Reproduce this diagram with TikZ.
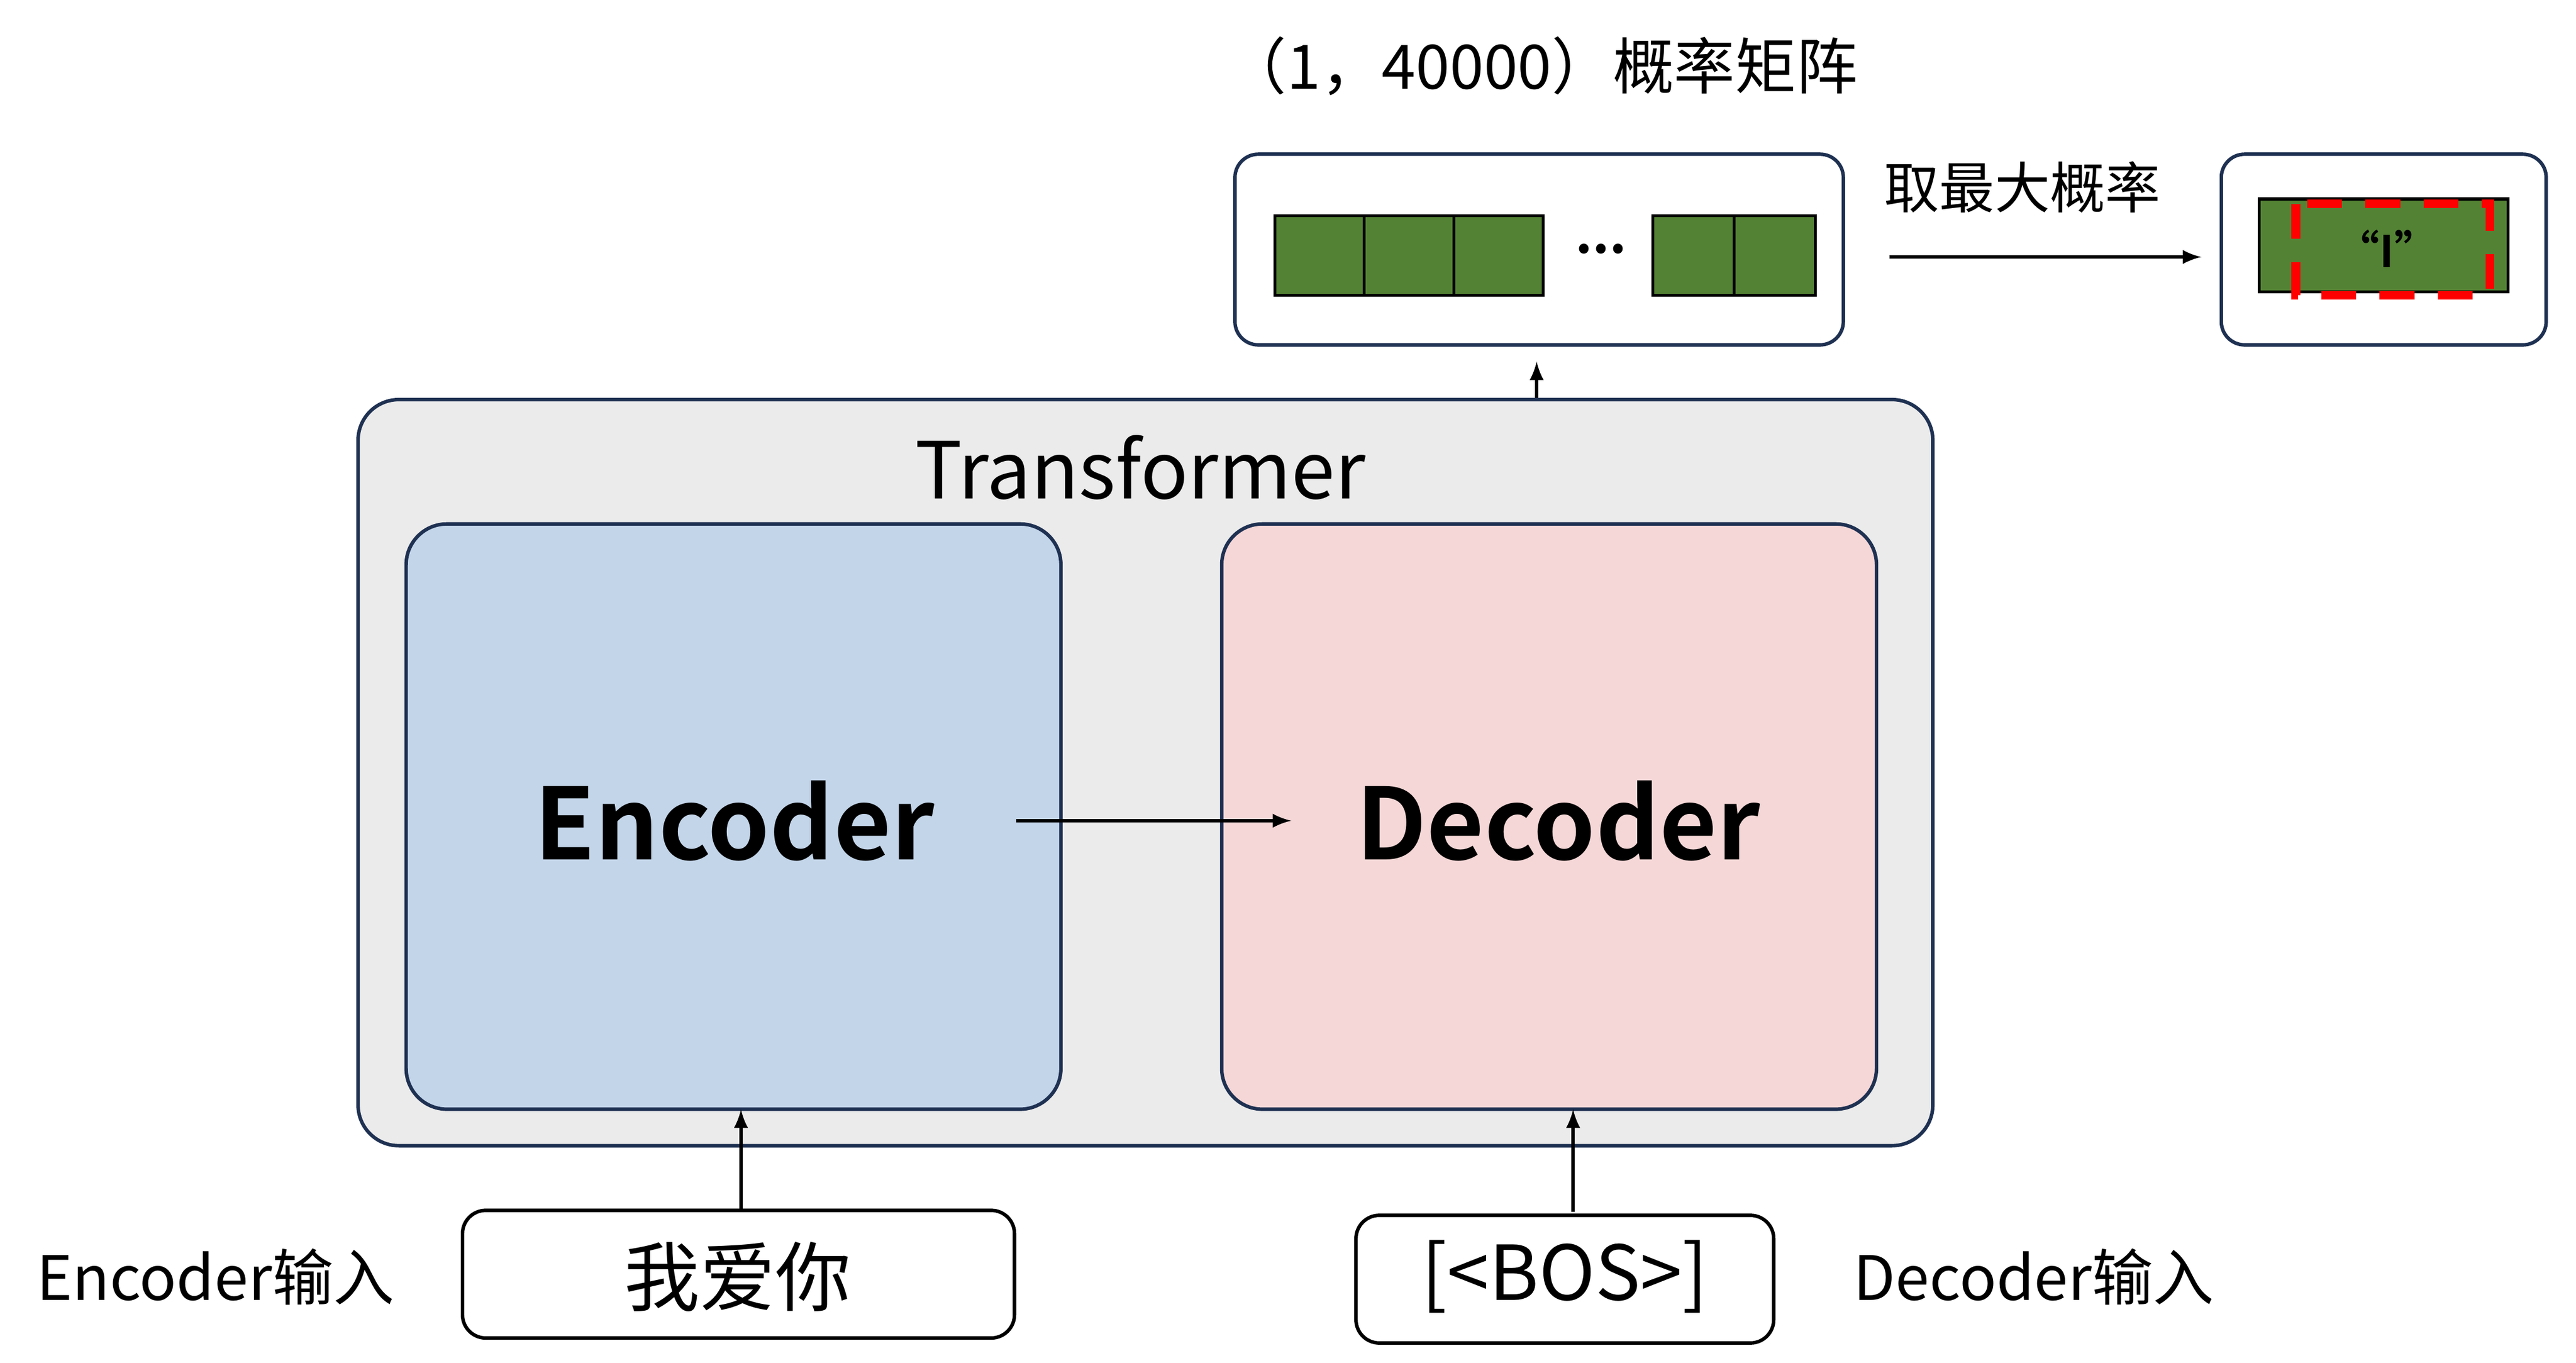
\documentclass[tikz,border=0pt]{standalone}
\usepackage{fontspec}
\setmainfont{Noto Sans CJK SC}[BoldFont=Noto Sans CJK SC Bold]
\begin{document}
\begin{tikzpicture}[x=0.02cm,y=-0.02cm,
  navy/.style={draw=black!40!blue!60!black,line width=1.2pt},
  rbox/.style={navy,rounded corners=8pt},
  cell/.style={draw=black,line width=1pt,fill=green!40!black!60!olive},
  arr/.style={-latex,line width=1.2pt}]
\definecolor{ng}{HTML}{548235}
\definecolor{nv}{HTML}{1F3152}
\tikzset{navy/.style={draw=nv,line width=1.2pt}, cell/.style={draw=black,line width=1pt,fill=ng}}
\useasboundingbox (0,0) rectangle (1554,822);
% top
\node (title) at (930,40) {\fontsize{21}{25}\selectfont （1，40000）概率矩阵};
\draw[rbox] (745,93) rectangle (1112,208);
\node[cell,minimum width=54*0.02cm,minimum height=48*0.02cm,inner sep=0] (c1) at (796,154) {};
\node[cell,minimum width=54*0.02cm,minimum height=48*0.02cm,inner sep=0] (c2) at (850,154) {};
\node[cell,minimum width=54*0.02cm,minimum height=48*0.02cm,inner sep=0] (c3) at (904,154) {};
\node (dots) at (966,150) {\fontsize{18}{20}\selectfont\textbf{...}};
\node[cell,minimum width=49*0.02cm,minimum height=48*0.02cm,inner sep=0] (c4) at (1021.5,154) {};
\node[cell,minimum width=49*0.02cm,minimum height=48*0.02cm,inner sep=0] (c5) at (1070.5,154) {};
\coordinate (mtop) at (927,218);
\coordinate (tr) at (927,280);
\draw[arr] (tr) -- (mtop);
\node (take) at (1220,113) {\fontsize{19}{22}\selectfont 取最大概率};
\coordinate (a1) at (1140,155); \coordinate (a2) at (1328,155);
\draw[arr] (a1) -- (a2);
\draw[rbox] (1340,93) rectangle (1536,208);
\draw[cell] (1363,120) rectangle (1513,176);
\draw[red,line width=3pt,dash pattern=on 12pt off 8pt] (1385,123) rectangle (1502,178);
\node (I) at (1440,150) {\fontsize{15}{18}\selectfont\textbf{“I”}};
% transformer
\draw[navy,rounded corners=14pt,fill=black!8] (216,241) rectangle (1166,691);
\node (tf) at (688,282) {\fontsize{27}{30}\selectfont Transformer};
\draw[navy,rounded corners=14pt,fill=blue!30!cyan!10!white,fill={rgb,255:red,195;green,213;blue,233}] (245,316) rectangle (640,669);
\draw[navy,rounded corners=14pt,fill={rgb,255:red,246;green,215;blue,215}] (737,316) rectangle (1132,669);
\node (enc) at (443,495) {\fontsize{34}{40}\selectfont\textbf{Encoder}};
\node (dec) at (940,495) {\fontsize{34}{40}\selectfont\textbf{Decoder}};
\coordinate (e1) at (613,495); \coordinate (d1) at (779,495);
\draw[arr] (e1) -- (d1);
% inputs
\draw[rbox,draw=black] (279,730) rectangle (612,807);
\node (in1) at (445,770) {\fontsize{26}{30}\selectfont 我爱你};
\draw[rbox,draw=black] (818,733) rectangle (1070,810);
\node (in2) at (944,770) {\fontsize{26}{30}\selectfont [<BOS>]};
\coordinate (i1) at (447,729); \coordinate (i1t) at (447,669);
\coordinate (i2) at (949,731); \coordinate (i2t) at (949,669);
\draw[arr] (i1) -- (i1t);
\draw[arr] (i2) -- (i2t);
\node (l1) at (130,770) {\fontsize{21}{25}\selectfont Encoder输入};
\node (l2) at (1227,770) {\fontsize{21}{25}\selectfont Decoder输入};
\end{tikzpicture}
\end{document}
